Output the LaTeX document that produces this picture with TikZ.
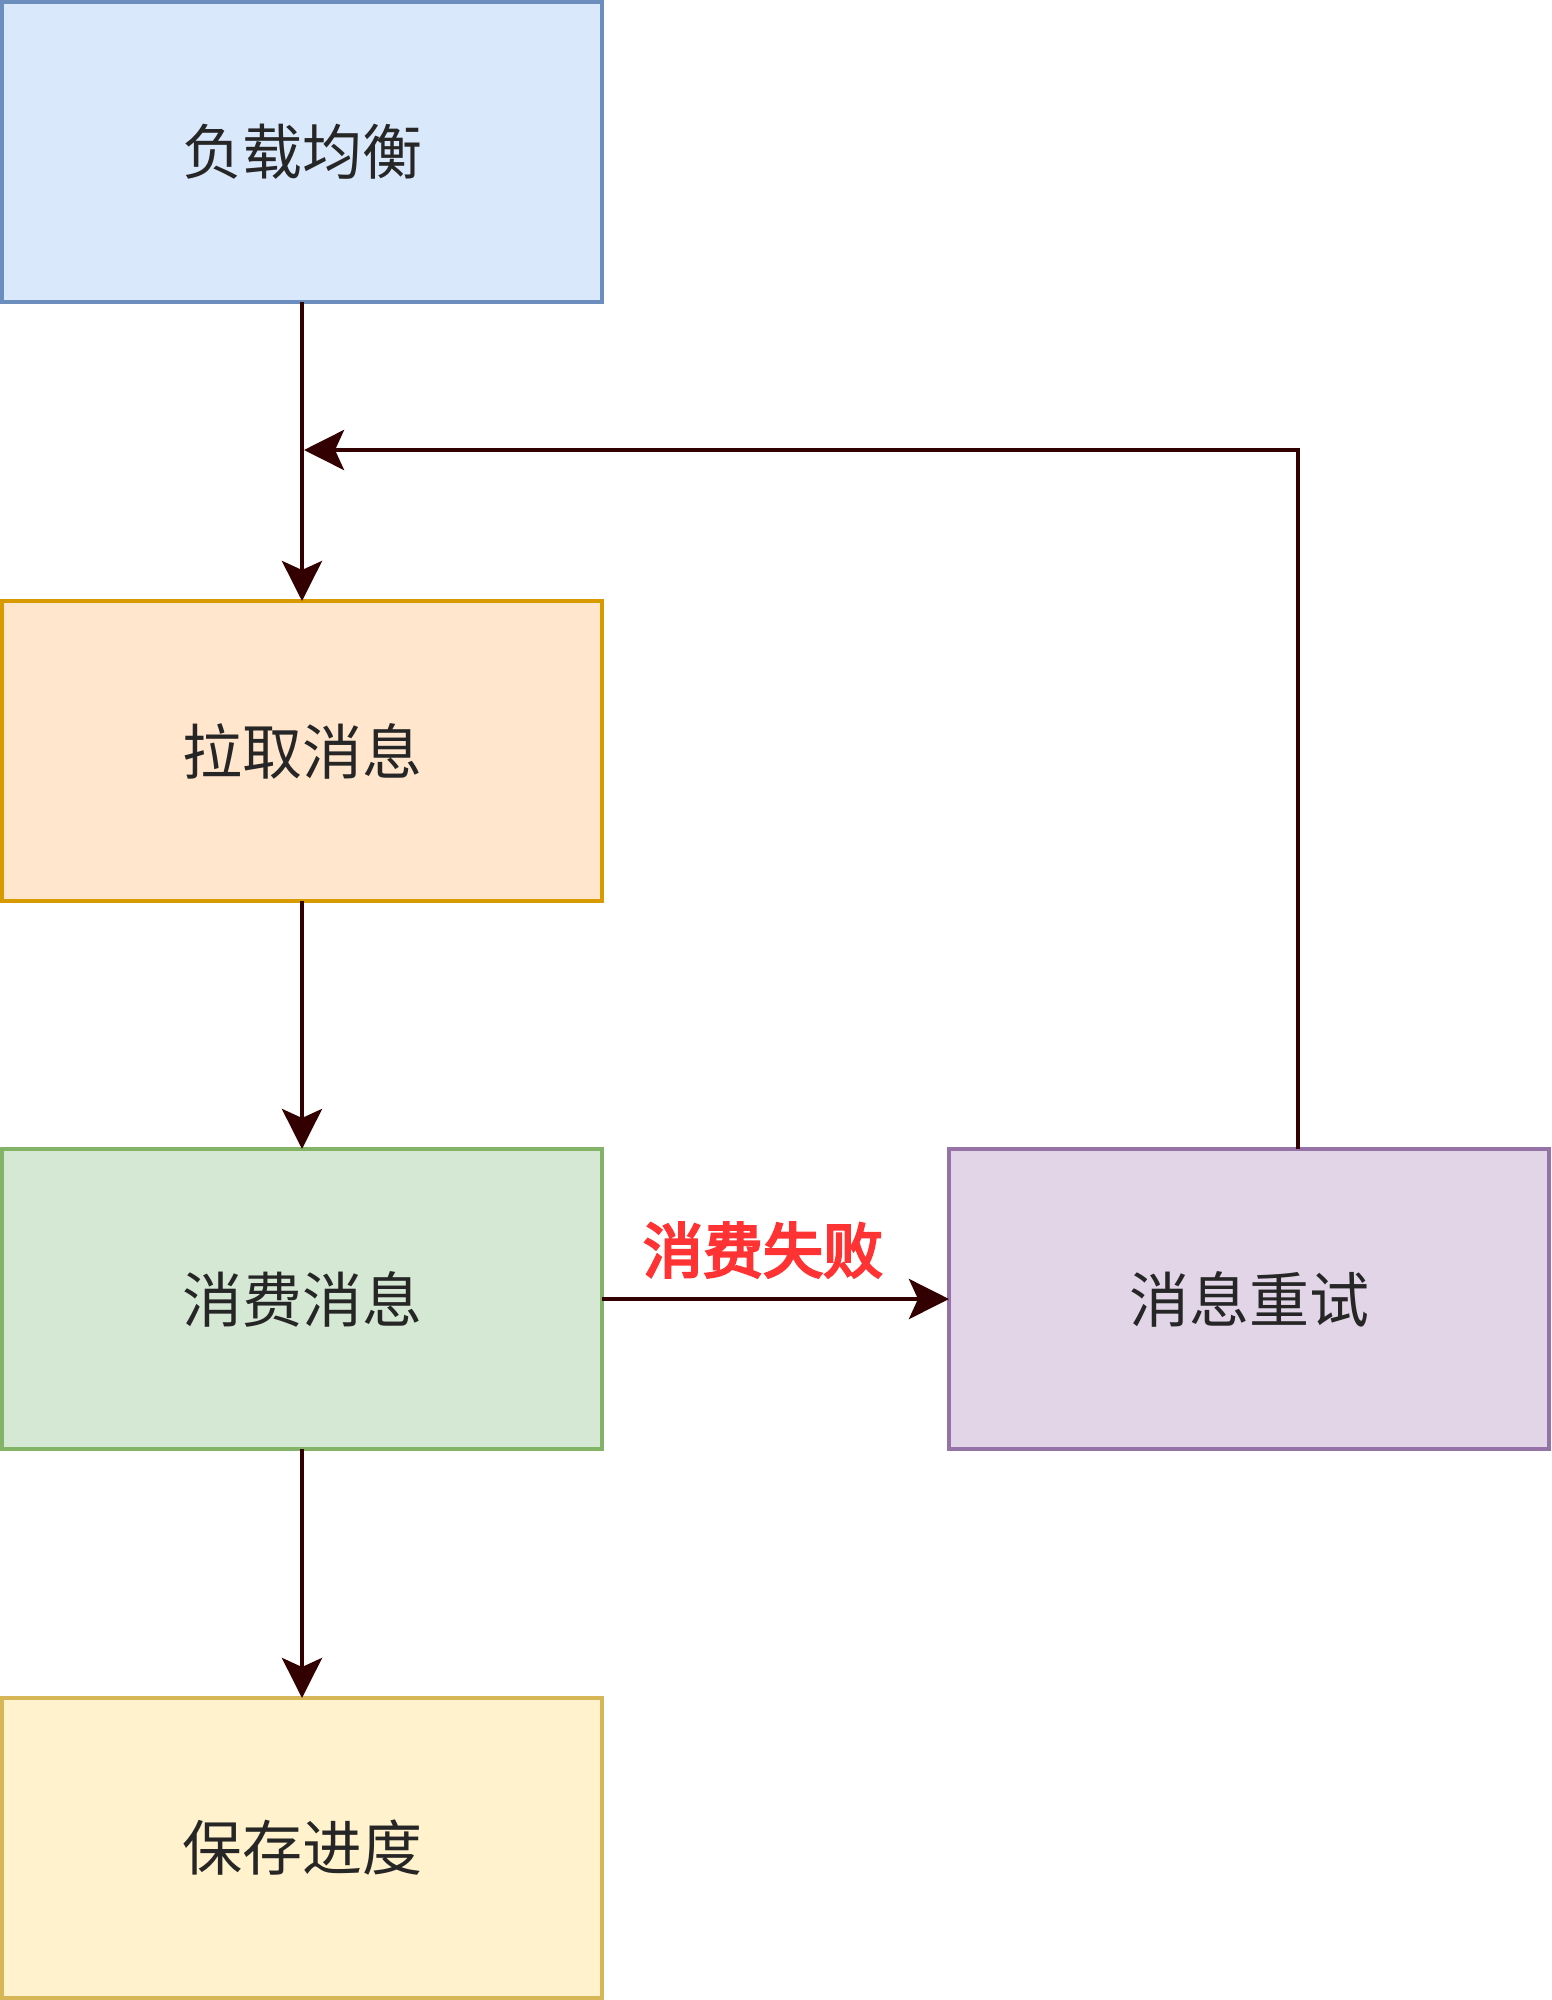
\documentclass[tikz,border=0pt]{standalone}
\usepackage{fontspec}
\setmainfont{Noto Sans CJK SC}
\newfontfamily\lblfont[FakeBold=4]{Noto Sans CJK SC}
\usetikzlibrary{arrows.meta}
\definecolor{bluefill}{HTML}{DAE8FC}\definecolor{bluedraw}{HTML}{6C8EBF}
\definecolor{orangefill}{HTML}{FFE6CC}\definecolor{orangedraw}{HTML}{D79B00}
\definecolor{greenfill}{HTML}{D5E8D4}\definecolor{greendraw}{HTML}{82B366}
\definecolor{yellowfill}{HTML}{FFF2CC}\definecolor{yellowdraw}{HTML}{D6B656}
\definecolor{purplefill}{HTML}{E1D5E7}\definecolor{purpledraw}{HTML}{9673A6}
\definecolor{arrowcol}{HTML}{330000}
\definecolor{lblred}{HTML}{FF3333}
\begin{document}
\begin{tikzpicture}[x=1pt,y=-1pt,
  box/.style={draw, line width=4pt, minimum width=600pt, minimum height=300pt, inner sep=0pt, outer sep=0pt, font=\fontsize{60pt}{72pt}\selectfont, text=black!85},
  conn/.style={draw=arrowcol, line width=4.5pt, -{Stealth[length=40pt,width=40pt,inset=9pt]}},
  lbl/.style={font=\fontsize{60pt}{72pt}\lblfont, text=lblred, inner sep=0pt}]
\useasboundingbox (0,0) rectangle (1551,2000);
\node[box, fill=bluefill, draw=bluedraw] (lb) at (302,152) {负载均衡};
\node[box, fill=orangefill, draw=orangedraw] (pull) at (302,751) {拉取消息};
\node[box, fill=greenfill, draw=greendraw] (cons) at (302,1299) {消费消息};
\node[box, fill=yellowfill, draw=yellowdraw] (save) at (302,1848) {保存进度};
\node[box, fill=purplefill, draw=purpledraw] (retry) at (1249,1299) {消息重试};
\coordinate (turn) at (1298,450);
\coordinate (join) at (304,450);
\draw[conn] (lb) -- (pull);
\draw[conn] (pull) -- (cons);
\draw[conn] (cons) -- (save);
\draw[conn] (cons) -- (retry);
\node[lbl] (fail) at (763,1250) {消费失败};
\draw[conn] (retry.north -| turn) -- (turn) -- (join);
\end{tikzpicture}
\end{document}
